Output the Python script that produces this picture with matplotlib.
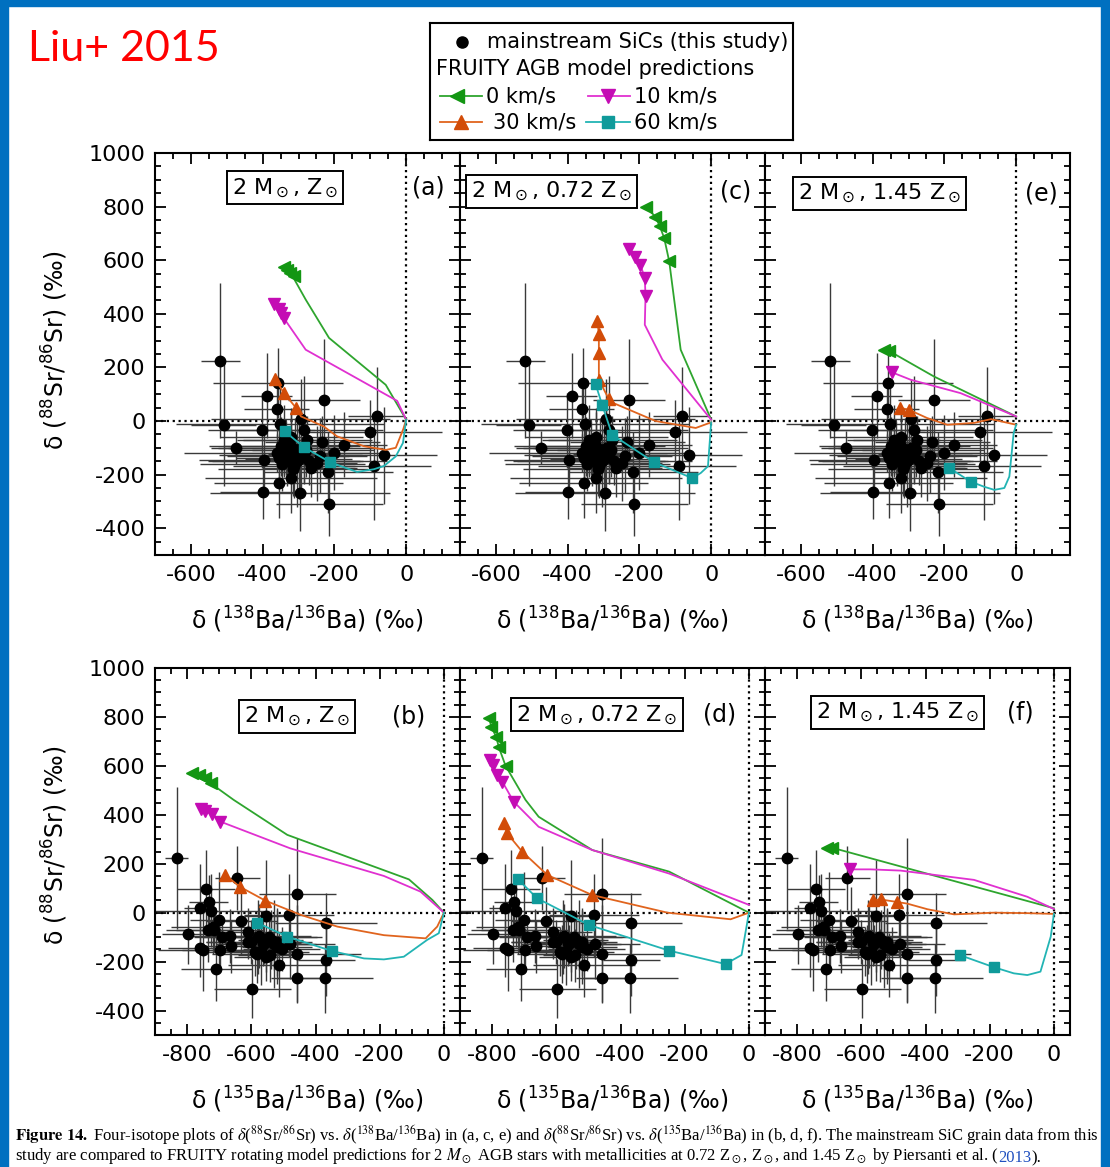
import matplotlib.pyplot as plt
from matplotlib.patches import Rectangle
from matplotlib.text import Annotation
from matplotlib.ticker import MultipleLocator

plt.rcParams['font.family'] = ['DejaVu Sans']
plt.rcParams['mathtext.fontset'] = 'dejavusans'
plt.rcParams['axes.unicode_minus'] = False

# --- mainstream SiC grains (same grains in every panel) ---
sr88 = [225, 142, 95, 77, 45, 20, 8, -10, -14, -35, -41, -32, -70, -70, -80, -88, -95, -99, -100, -100,
        -119, -126, -128, -138, -144, -151, -151, -157, -169, -169, -175, -192, -214, -231, -265, -269,
        -310, -120, -110, -60, -130, -110, -160, -140, -120, -125, -95, -150, -180, -130]
sr88_err = [290, 130, 160, 230, 110, 180, 150, 170, 230, 140, 120, 200, 90, 130, 100, 120, 110, 60, 150, 100,
            140, 90, 180, 110, 120, 170, 90, 140, 120, 200, 110, 150, 130, 130, 100, 140, 120, 90, 100, 110,
            80, 120, 100, 150, 70, 110, 130, 90, 100, 140]
ba138 = [-518, -357, -389, -229, -361, -82, -294, -352, -509, -403, -101, -285, -276, -341, -234, -173, -350,
         -473, -294, -336, -201, -322, -63, -355, -397, -303, -331, -248, -313, -91, -266, -217, -320, -355,
         -398, -296, -214, -340, -280, -320, -330, -310, -345, -300, -360, -285, -320, -270, -315, -240]
ba138_err = [55, 180, 70, 100, 90, 80, 250, 290, 90, 150, 200, 220, 180, 130, 160, 120, 200, 70, 230, 160,
             140, 200, 150, 120, 180, 250, 210, 110, 170, 160, 130, 180, 240, 180, 120, 250, 150, 140, 190, 200,
             170, 120, 230, 150, 260, 100, 190, 140, 210, 130]
ba135 = [-833, -644, -740, -457, -733, -760, -725, -483, -554, -631, -367, -700, -715, -735, -610, -798, -665,
         -690, -580, -545, -520, -565, -530, -663, -760, -750, -697, -570, -582, -457, -541, -366, -514, -709,
         -459, -371, -597, -600, -540, -720, -560, -540, -590, -520, -610, -530, -575, -505, -555, -480]
ba135_err = [35, 70, 90, 120, 60, 50, 180, 140, 70, 110, 160, 90, 150, 100, 120, 80, 130, 60, 200, 150,
             110, 120, 130, 90, 100, 140, 120, 110, 140, 200, 100, 90, 160, 110, 80, 150, 120, 140, 100, 130,
             150, 90, 170, 110, 130, 80, 160, 120, 100, 140]

# --- FRUITY models: (delta Ba, delta 88Sr) points, last n get markers ---
# panel a: 138Ba, Z_sun
a_v0 = [(0, 5), (-57, 135), (-215, 310), (-280, 453), (-311, 527), (-313, 540), (-323, 553), (-332, 565), (-341, 575)]
a_v10 = [(0, 5), (-25, 75), (-280, 266), (-341, 384), (-348, 403), (-355, 418), (-367, 437)]
a_v30 = [(0, 5), (-8, -30), (-29, -100), (-57, -108), (-118, -94), (-193, -57), (-230, -20), (-293, 17),
         (-307, 49), (-341, 105), (-365, 157)]
a_v60 = [(0, 5), (-9, -82), (-29, -132), (-62, -168), (-90, -180), (-137, -190), (-183, -168), (-211, -154),
         (-285, -98), (-338, -39)]
# panel c: 138Ba, 0.72 Z_sun
c_v0 = [(0, 5), (-85, 266), (-117, 596), (-131, 683), (-143, 726), (-156, 763), (-181, 798)]
c_v10 = [(0, 5), (-136, 229), (-185, 359), (-183, 465), (-185, 533), (-197, 582), (-211, 613), (-230, 641)]
c_v30 = [(0, -5), (-43, -26), (-155, 0), (-276, 69), (-285, 81), (-313, 154), (-313, 254), (-313, 323), (-317, 372)]
c_v60 = [(0, -5), (-9, -169), (-29, -194), (-53, -213), (-159, -154), (-276, -51), (-304, 61), (-322, 137)]
# panel e: 138Ba, 1.45 Z_sun
e_v0 = [(0, 17), (-229, 166), (-355, 262), (-367, 266)]
e_v10 = [(0, 17), (-155, 104), (-294, 154), (-345, 181)]
e_v30 = [(0, -14), (-70, 7), (-117, -7), (-192, -14), (-248, 11), (-299, 42), (-323, 49)]
e_v60 = [(0, -14), (-7, -45), (-19, -207), (-33, -250), (-61, -257), (-90, -245), (-127, -226), (-187, -175)]
# panel b: 135Ba, Z_sun
b_v0 = [(0, 0), (-36, 52), (-109, 136), (-488, 318), (-655, 461), (-727, 529), (-743, 549), (-764, 562), (-785, 572)]
b_v10 = [(0, 0), (-73, 86), (-187, 150), (-479, 263), (-696, 372), (-722, 402), (-743, 415), (-758, 425)]
b_v30 = [(0, 0), (-21, -57), (-57, -105), (-187, -92), (-332, -57), (-446, -9), (-556, 49), (-636, 106), (-681, 154)]
b_v60 = [(0, 0), (-16, -84), (-52, -111), (-125, -180), (-187, -191), (-249, -187), (-348, -157), (-488, -98), (-582, -41)]
# panel d: 135Ba, 0.72 Z_sun
d_v0 = [(0, 0), (-249, 168), (-488, 256), (-655, 392), (-696, 461), (-758, 600), (-779, 676), (-787, 717),
        (-802, 760), (-810, 795)]
d_v10 = [(0, 32), (-249, 160), (-488, 256), (-655, 351), (-733, 454), (-768, 535), (-785, 561), (-798, 602), (-806, 623)]
d_v30 = [(0, 0), (-57, -27), (-254, 0), (-488, 72), (-628, 154), (-706, 249), (-753, 324), (-764, 368)]
d_v60 = [(0, 0), (-23, -173), (-73, -210), (-249, -155), (-499, -50), (-660, 59), (-719, 136)]
# panel f: 135Ba, 1.45 Z_sun
f_v0 = [(0, 18), (-690, 265), (-706, 263)]
f_v10 = [(0, 15), (-83, 65), (-249, 134), (-478, 172), (-572, 177), (-634, 177)]
f_v30 = [(0, -5), (-83, -2), (-187, 0), (-311, -7), (-394, 14), (-457, 37), (-490, 44), (-540, 54), (-565, 50)]
f_v60 = [(0, -5), (-10, -98), (-42, -241), (-83, -255), (-125, -248), (-187, -223), (-294, -173)]

speeds = ['0 km/s', '10 km/s', '30 km/s', '60 km/s']
line_cols = ['#2ea52e', '#e030d0', '#e0641e', '#22b4b4']
mark_cols = ['#139613', '#c40cb4', '#d24c08', '#0f9a9a']
markers = ['<', 'v', '^', 's']

panels = [
    ('a', '2 M$_\\odot$, Z$_\\odot$', ba138, ba138_err, [a_v0, a_v10, a_v30, a_v60], [4, 4, 3, 3]),
    ('c', '2 M$_\\odot$, 0.72 Z$_\\odot$', ba138, ba138_err, [c_v0, c_v10, c_v30, c_v60], [5, 5, 5, 5]),
    ('e', '2 M$_\\odot$, 1.45 Z$_\\odot$', ba138, ba138_err, [e_v0, e_v10, e_v30, e_v60], [2, 1, 2, 2]),
    ('b', '2 M$_\\odot$, Z$_\\odot$', ba135, ba135_err, [b_v0, b_v10, b_v30, b_v60], [4, 4, 3, 3]),
    ('d', '2 M$_\\odot$, 0.72 Z$_\\odot$', ba135, ba135_err, [d_v0, d_v10, d_v30, d_v60], [5, 5, 5, 5]),
    ('f', '2 M$_\\odot$, 1.45 Z$_\\odot$', ba135, ba135_err, [f_v0, f_v10, f_v30, f_v60], [2, 1, 3, 2]),
]
# box / label positions in axes fraction
box_pos = {'a': (0.426, 0.913), 'c': (0.30, 0.905), 'e': (0.374, 0.90),
           'b': (0.466, 0.867), 'd': (0.449, 0.872), 'f': (0.433, 0.88)}
lab_pos = {'a': (0.895, 0.913), 'c': (0.905, 0.905), 'e': (0.905, 0.90),
           'b': (0.83, 0.867), 'd': (0.85, 0.872), 'f': (0.836, 0.88)}

W, H = 1110, 1167
fig = plt.figure(figsize=(W / 100, H / 100), dpi=100)


def px_axes(l, t, r, b):
    return fig.add_axes([l / W, 1 - b / H, (r - l) / W, (b - t) / H])


lefts = [155, 460, 765]
for i, (key, boxtxt, bx, bxerr, curves, nmark) in enumerate(panels):
    row, col = divmod(i, 3)
    if row == 0:
        ax = px_axes(lefts[col], 153, lefts[col] + 305, 555)
        ax.set_xlim(-700, 150)
    else:
        ax = px_axes(lefts[col], 668, lefts[col] + 305, 1035)
        ax.set_xlim(-900, 50)
    ax.set_ylim(-500, 1000)
    ax.xaxis.set_major_locator(MultipleLocator(200))
    ax.xaxis.set_minor_locator(MultipleLocator(50))
    ax.yaxis.set_major_locator(MultipleLocator(200))
    ax.yaxis.set_minor_locator(MultipleLocator(50))
    ax.tick_params(which='both', direction='in', top=True, right=True, width=1.3, labelsize=16, pad=7)
    ax.tick_params(which='major', length=8)
    ax.tick_params(which='minor', length=4)
    if col > 0:
        ax.tick_params(labelleft=False)
    for s in ax.spines.values():
        s.set_linewidth(1.5)

    ax.axhline(0, color='black', ls=':', lw=1.6, zorder=1)
    ax.axvline(0, color='black', ls=':', lw=1.6, zorder=1)

    ax.errorbar(bx, sr88, xerr=bxerr, yerr=sr88_err, fmt='o', color='black', ms=7.5,
                ecolor='#3a3a3a', elinewidth=1.0, capsize=0, zorder=2)

    for j, pts in enumerate(curves):
        xs = [p[0] for p in pts]
        ys = [p[1] for p in pts]
        ax.plot(xs, ys, color=line_cols[j], lw=1.3, zorder=3)
        n = nmark[j]
        ax.plot(xs[-n:], ys[-n:], ls='none', marker=markers[j], color=mark_cols[j],
                ms=8 if markers[j] != 's' else 7, zorder=4)

    bxp, byp = box_pos[key]
    ax.text(bxp, byp, boxtxt, transform=ax.transAxes, ha='center', va='center', fontsize=16,
            bbox=dict(boxstyle='square,pad=0.22', fc='white', ec='black', lw=1.4), zorder=5)
    lxp, lyp = lab_pos[key]
    ax.text(lxp, lyp, '(' + key + ')', transform=ax.transAxes, ha='center', va='center', fontsize=17)

# axis titles
ylab = 'δ ($^{88}$Sr/$^{86}$Sr) (‰)'
fig.text(55 / W, 1 - 350 / H, ylab, rotation=90, ha='center', va='center', fontsize=17)
fig.text(55 / W, 1 - 845 / H, ylab, rotation=90, ha='center', va='center', fontsize=17)
for c in range(3):
    cx = (lefts[c] + 152) / W
    fig.text(cx, 1 - 620 / H, 'δ ($^{138}$Ba/$^{136}$Ba) (‰)', ha='center', va='center', fontsize=17)
    fig.text(cx, 1 - 1100 / H, 'δ ($^{135}$Ba/$^{136}$Ba) (‰)', ha='center', va='center', fontsize=17)

# legend box
lax = px_axes(430, 23, 793, 140)
lax.set_xlim(430, 793)
lax.set_ylim(140, 23)
lax.set_xticks([])
lax.set_yticks([])
for s in lax.spines.values():
    s.set_linewidth(1.5)
lax.plot([462], [42], 'o', color='black', ms=8)
lax.text(487, 42, 'mainstream SiCs (this study)', va='center', fontsize=15)
lax.text(436, 69, 'FRUITY AGB model predictions', va='center', fontsize=15)
leg_x = [(440, 482, 457, 486), (588, 630, 608, 634), (440, 482, 461, 493), (586, 630, 608, 634)]
leg_y = [96, 96, 122, 122]
for j in range(4):
    x0, x1, xm, xt = leg_x[j]
    lax.plot([x0, x1], [leg_y[j], leg_y[j]], color=line_cols[j], lw=1.3)
    lax.plot([xm], [leg_y[j]], marker=markers[j], color=mark_cols[j], ms=10 if markers[j] != 's' else 8)
    lax.text(xt, leg_y[j], speeds[j], va='center', fontsize=15)

# slide decoration
fig.text(28 / W, 1 - 61 / H, 'Liu+ 2015', color='red', fontsize=31, family='Lato', va='baseline')
blue = '#0070c0'
fig.patches.append(Rectangle((0, 0), 8 / W, 1, transform=fig.transFigure, color=blue, zorder=10))
fig.patches.append(Rectangle((0, 1 - 6 / H), 1, 6 / H, transform=fig.transFigure, color=blue, zorder=10))
fig.patches.append(Rectangle((1 - 9 / W, 0), 9 / W, 1, transform=fig.transFigure, color=blue, zorder=10))

# caption
cap = dict(fontsize=12, family='Liberation Serif', math_fontfamily='stix')
fig.text(15 / W, 1 - 1141 / H,
         r'$\mathbf{Figure\ 14.}$ Four-isotope plots of $\delta$($^{88}$Sr/$^{86}$Sr) vs. $\delta$($^{138}$Ba/$^{136}$Ba) '
         r'in (a, c, e) and $\delta$($^{88}$Sr/$^{86}$Sr) vs. $\delta$($^{135}$Ba/$^{136}$Ba) in (b, d, f). '
         r'The mainstream SiC grain data from this', va='baseline', **cap)
t3 = fig.text(15 / W, 1 - 1160 / H,
              r'study are compared to FRUITY rotating model predictions for 2 $M_\odot$ AGB stars with '
              r'metallicities at 0.72 Z$_\odot$, Z$_\odot$, and 1.45 Z$_\odot$ by Piersanti et al. (',
              va='baseline', **cap)
t4 = fig.add_artist(Annotation('2013', xycoords=t3, xy=(1, 0), va='bottom', ha='left',
                               color='#1f4fbf', annotation_clip=False, **cap))
fig.add_artist(Annotation(').', xycoords=t4, xy=(1, 0), va='bottom', ha='left',
                          annotation_clip=False, **cap))

fig.savefig('out.png', dpi=100)
